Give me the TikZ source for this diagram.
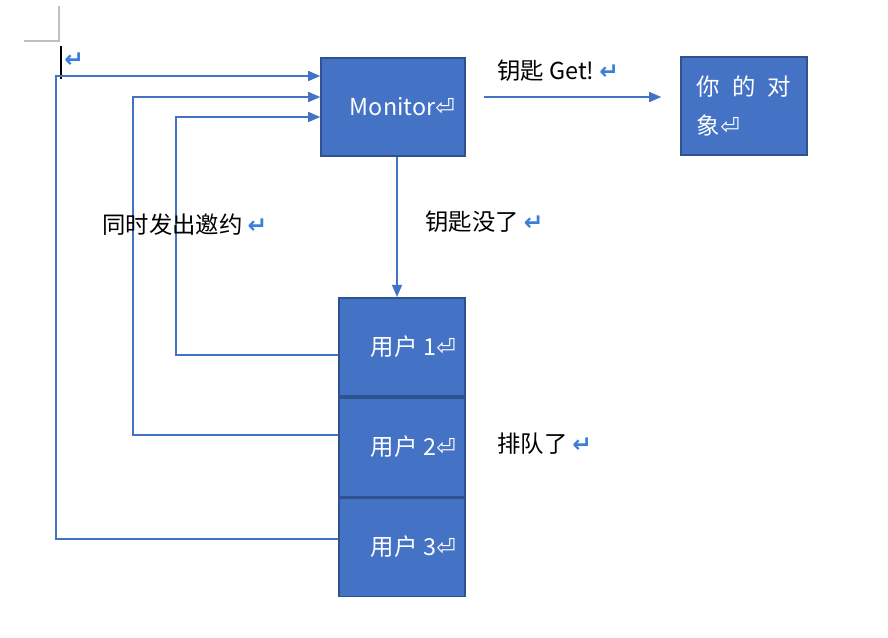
\documentclass[tikz,border=0pt]{standalone}
\usepackage{fontspec}
\usepackage{xcolor}
\setmainfont{Noto Sans CJK SC}
\newfontfamily\symfont{DejaVu Sans}
\usetikzlibrary{calc,arrows.meta,positioning}
\definecolor{boxfill}{HTML}{4472C4}
\definecolor{boxedge}{HTML}{2F528F}
\definecolor{linkcol}{HTML}{4472C4}
\definecolor{pmark}{HTML}{3B7DD8}
\definecolor{pagemark}{HTML}{C0C0C0}
\newcommand{\pmk}{{\symfont\bfseries\textcolor{pmark}{↵}}}
\newcommand{\pmkw}{{\symfont\textcolor{white}{⏎}}}

\begin{document}
\begin{tikzpicture}[x=0.02cm, y=-0.02cm,
    font=\fontsize{13.3}{22.7}\selectfont,
    block/.style={draw=boxedge, line width=0.9pt, fill=boxfill, text=white,
                  minimum height=1.97cm, inner ysep=0pt},
    link/.style={draw=linkcol, line width=0.8pt},
    tip/.style={-{Triangle[length=0.24cm, width=0.2cm]}},
    lbl/.style={anchor=west, inner sep=0pt}]
  \useasboundingbox (0,0) rectangle (888,638);
  % page corner and cursor
  \draw[pagemark, line width=0.8pt] (59,6) -- (59,41) -- (24,41);
  \draw[black, line width=1pt] (61,46) -- (61,79);
  \node[lbl] (cursormark) at (64,60) {\pmk};

  \node[block, minimum width=2.88cm, inner xsep=0.2cm, text width=2.48cm, align=right]
    (mon) at (393,107) {Monitor\pmkw};
  \node[block, minimum width=2.52cm, align=left]
    (obj) at (744,106) {你\hspace{0.24cm}的\hspace{0.24cm}对\\象\pmkw};

  \node[block, minimum width=2.52cm, inner xsep=0.18cm, text width=2.16cm, align=right]
    (u1) at (402,347) {用户\hspace{0.12cm}1\pmkw};
  \node[block, minimum width=2.52cm, inner xsep=0.18cm, text width=2.16cm, align=right,
    below=0pt of u1] (u2) {用户\hspace{0.12cm}2\pmkw};
  \node[block, minimum width=2.52cm, inner xsep=0.18cm, text width=2.16cm, align=right,
    below=0pt of u2] (u3) {用户\hspace{0.12cm}3\pmkw};

  % everyone asks the monitor
  \foreach \i/\s/\x/\ey in {1/8/176/117, 2/-12/133/97, 3/-8/56/76} {
    \coordinate (bend\i) at (\x,\ey);
    \draw[link, tip] ($(u\i.west)+(0,\s)$) -| (bend\i) -- (bend\i -| mon.west);
  }

  \draw[link, tip, shorten <=0.36cm, shorten >=0.38cm]
    ($(mon.east)+(0,-10)$) -- ($(obj.west)+(0,-9)$);
  \coordinate (drop) at (397,0);
  \draw[link, tip] (mon.south -| drop) -- (u1.north -| drop);

  \node[lbl] (getlbl) at (497,71) {钥匙 Get!\hspace{0.1cm}\pmk};
  \node[lbl] (gonelbl) at (425,222) {钥匙没了\hspace{0.1cm}\pmk};
  \node[lbl] (invlbl) at (102,225) {同时发出邀约\hspace{0.1cm}\pmk};
  \node[lbl] (queuelbl) at (497,444) {排队了\hspace{0.1cm}\pmk};
\end{tikzpicture}
\end{document}
